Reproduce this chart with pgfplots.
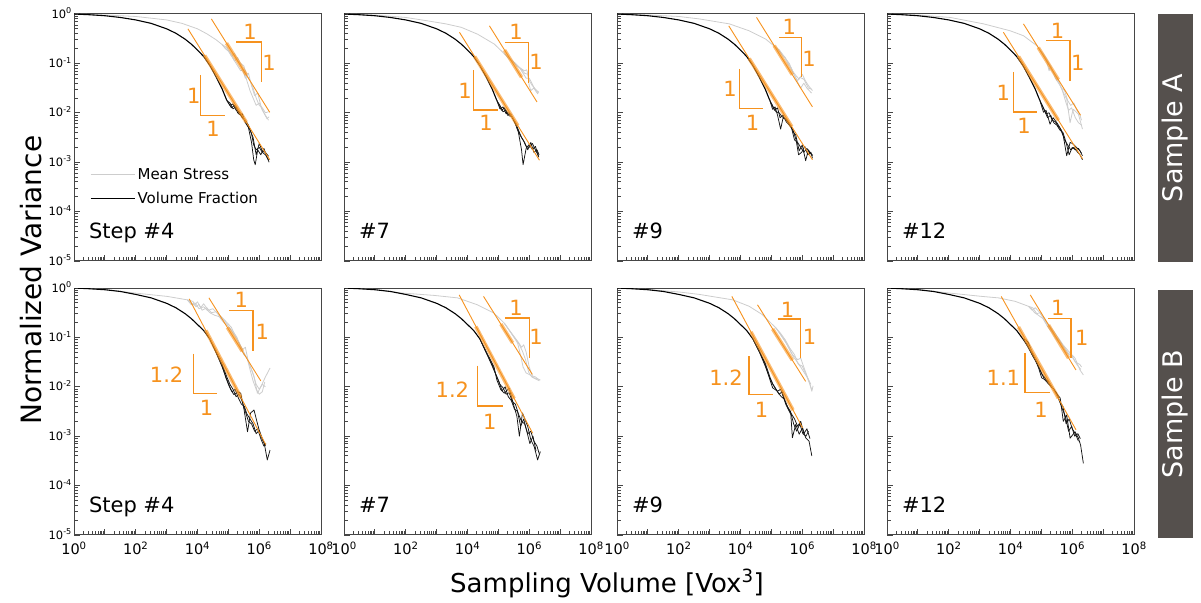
\documentclass[border=0pt]{standalone}
\usepackage{fontspec}
\setmainfont{DejaVu Sans}
\usepackage{pgfplots}
\pgfplotsset{compat=1.18}
\definecolor{og}{RGB}{246,146,30}
\definecolor{lg}{RGB}{205,205,205}
\definecolor{frm}{RGB}{70,70,70}
\definecolor{boxc}{RGB}{85,80,77}
\pgfplotsset{
 panel/.style={scale only axis, width=247pt, height=247pt,
  xmin=0, xmax=8, ymin=-5, ymax=0, no markers,
  axis line style={frm, line width=1pt},
  tick align=inside, xtick pos=left, ytick pos=left,
  xtick={0,1,...,8}, ytick={-5,-4,...,0},
  minor xtick={0.301,0.477,0.602,0.699,0.778,0.845,0.903,0.954,1.301,1.477,1.602,1.699,1.778,1.845,1.903,1.954,2.301,2.477,2.602,2.699,2.778,2.845,2.903,2.954,3.301,3.477,3.602,3.699,3.778,3.845,3.903,3.954,4.301,4.477,4.602,4.699,4.778,4.845,4.903,4.954,5.301,5.477,5.602,5.699,5.778,5.845,5.903,5.954,6.301,6.477,6.602,6.699,6.778,6.845,6.903,6.954,7.301,7.477,7.602,7.699,7.778,7.845,7.903,7.954},
  minor ytick={-4.699,-4.523,-4.398,-4.301,-4.222,-4.155,-4.097,-4.046,-3.699,-3.523,-3.398,-3.301,-3.222,-3.155,-3.097,-3.046,-2.699,-2.523,-2.398,-2.301,-2.222,-2.155,-2.097,-2.046,-1.699,-1.523,-1.398,-1.301,-1.222,-1.155,-1.097,-1.046,-0.699,-0.523,-0.398,-0.301,-0.222,-0.155,-0.097,-0.046},
  major tick length=6pt, minor tick length=3.5pt,
  every tick/.style={frm, line width=0.8pt},
  xticklabels={}, yticklabels={},
  yticklabel style={font=\fontsize{11.5}{11.5}\selectfont, inner xsep=2pt, inner ysep=0.3pt, yshift=1pt},
  xticklabel style={font=\fontsize{14.5}{14.5}\selectfont, inner xsep=0.3pt, inner ysep=0.5pt, yshift=-6pt},
  clip mode=individual},
 ylab/.style={yticklabels={10\textsuperscript{-5},10\textsuperscript{-4},10\textsuperscript{-3},10\textsuperscript{-2},10\textsuperscript{-1},10\textsuperscript{0}}},
 xlab/.style={xticklabels={10\textsuperscript{0},,10\textsuperscript{2},,10\textsuperscript{4},,10\textsuperscript{6},,10\textsuperscript{8}}},
 gr/.style={lg, line width=0.8pt, line join=round},
 bk/.style={black!92, line width=0.75pt, line join=round},
 bks/.style={black, line width=1.1pt, line join=round},
 thn/.style={og, line width=0.9pt},
 thk/.style={og, line width=3.6pt, opacity=0.6},
 brk/.style={og, line width=1.4pt},
}
\tikzset{lab/.style={text=og, font=\fontsize{21}{21}\selectfont, inner sep=0pt},
 steplab/.style={anchor=base west, font=\fontsize{21}{21}\selectfont, inner sep=0pt}}
\begin{document}
\begin{tikzpicture}
\path[use as bounding box] (0pt,0pt) rectangle (1201pt,602pt);
% ================= A #4
\begin{axis}[panel, ylab, at={(74pt,341pt)}, anchor=south west,
  legend style={at={(rel axis cs:0.065,0.385)}, anchor=north west, draw=none, fill=none, font=\fontsize{15}{15}\selectfont, row sep=7pt, inner sep=0pt},
  legend cell align=left,
  legend image code/.code={\draw[#1] (0pt,0pt) -- (39pt,0pt); \path (0pt,0pt) -- (44pt,0pt);}]
\addlegendimage{lg, line width=1.3pt}\addlegendentry{Mean Stress}
\addlegendimage{black, line width=1.3pt}\addlegendentry{Volume Fraction}
\addplot[gr] coordinates {(0,0) (1,-0.02) (2,-0.05) (3,-0.12) (3.5,-0.19) (4,-0.3) (4.3,-0.4) (4.6,-0.52) (4.8,-0.62)};
\addplot[gr] coordinates {(4.8,-0.62) (4.95,-0.68) (5.1,-0.85) (5.2,-0.8) (5.3,-0.95) (5.4,-1.0) (5.5,-1.05) (5.6,-1.25) (5.7,-1.35) (5.8,-1.5) (5.9,-1.7) (6.0,-1.85) (6.1,-1.9) (6.2,-2.0) (6.3,-1.98)};
\addplot[gr] coordinates {(4.8,-0.62) (4.95,-0.72) (5.05,-0.78) (5.2,-0.95) (5.3,-0.88) (5.45,-1.1) (5.55,-1.3) (5.65,-1.2) (5.75,-1.45) (5.85,-1.65) (5.95,-1.6) (6.05,-1.85) (6.15,-2.0) (6.25,-2.12) (6.32,-2.08)};
\addplot[gr] coordinates {(4.8,-0.62) (4.9,-0.7) (5.0,-0.75) (5.15,-0.9) (5.3,-1.05) (5.4,-1.15) (5.5,-1.12) (5.6,-1.35) (5.7,-1.55) (5.8,-1.7) (5.9,-1.85) (6.0,-1.8) (6.1,-1.95) (6.2,-2.05) (6.3,-2.15)};
\addplot[bks] coordinates {(0,0) (0.5,-0.015) (1,-0.035) (1.5,-0.07) (2,-0.12) (2.5,-0.19) (3,-0.3) (3.3,-0.39) (3.6,-0.51) (3.8,-0.61) (4,-0.73) (4.2,-0.86) (4.4,-1.04) (4.6,-1.27) (4.8,-1.52) (4.95,-1.75)};
\addplot[bk] coordinates {(4.95,-1.75) (5.05,-1.85) (5.15,-1.82) (5.25,-1.95) (5.35,-1.98) (5.45,-2.1) (5.55,-2.15) (5.65,-2.25) (5.75,-2.42) (5.82,-2.65) (5.9,-2.75) (6.0,-2.7) (6.1,-2.8) (6.2,-2.85) (6.3,-2.95)};
\addplot[bk] coordinates {(4.95,-1.75) (5.05,-1.8) (5.15,-1.92) (5.25,-1.88) (5.35,-2.03) (5.45,-2.02) (5.55,-2.2) (5.65,-2.3) (5.75,-2.6) (5.82,-2.95) (5.87,-3.05) (5.95,-2.75) (6.05,-2.85) (6.15,-2.72) (6.25,-2.9) (6.32,-3.0)};
\addplot[bk] coordinates {(4.95,-1.75) (5.1,-1.9) (5.2,-1.85) (5.3,-2.0) (5.4,-2.05) (5.5,-2.12) (5.6,-2.22) (5.7,-2.35) (5.8,-2.5) (5.9,-2.85) (6.0,-2.62) (6.1,-2.78) (6.2,-2.8) (6.3,-2.88)};
\addplot[thn] coordinates {(4.45,-0.10) (6.34,-1.99)};
\addplot[thn] coordinates {(3.69,-0.30) (6.34,-2.95)};
\addplot[thk] coordinates {(4.94,-0.59) (5.58,-1.23)};
\addplot[thk] coordinates {(4.23,-0.84) (5.58,-2.19)};
\addplot[brk] coordinates {(5.26,-0.57) (6.07,-0.57) (6.07,-1.38)};
\addplot[brk] coordinates {(4.10,-1.23) (4.10,-2.05) (4.88,-2.05)};
\node[lab] at (axis cs:5.70,-0.37) {1};
\node[lab] at (axis cs:6.32,-0.98) {1};
\node[lab] at (axis cs:3.88,-1.66) {1};
\node[lab] at (axis cs:4.50,-2.32) {1};
\node[steplab] at (rel axis cs:0.06,0.09) {Step \#4};
\end{axis}
% ================= A #7
\begin{axis}[panel, at={(344pt,341pt)}, anchor=south west]
\addplot[gr] coordinates {(0,0) (1,-0.02) (2,-0.07) (2.72,-0.14) (3.3,-0.2) (3.8,-0.27) (4.33,-0.41) (4.87,-0.61) (5.2,-0.81)};
\addplot[gr] coordinates {(5.2,-0.81) (5.35,-0.9) (5.52,-0.98) (5.68,-1.08) (5.84,-1.15) (5.92,-1.13) (6.0,-1.35) (6.1,-1.45) (6.2,-1.52) (6.3,-1.58)};
\addplot[gr] coordinates {(5.2,-0.81) (5.3,-0.88) (5.45,-0.95) (5.6,-1.05) (5.75,-1.12) (5.85,-1.2) (5.95,-1.22) (6.0,-1.45) (6.05,-1.55) (6.15,-1.5) (6.3,-1.6)};
\addplot[gr] coordinates {(5.2,-0.81) (5.4,-0.93) (5.55,-1.0) (5.7,-1.1) (5.8,-1.2) (5.9,-1.3) (6.0,-1.3) (6.1,-1.42) (6.2,-1.55) (6.28,-1.62)};
\addplot[bks] coordinates {(0,0) (0.5,-0.015) (1,-0.035) (1.5,-0.07) (2,-0.12) (2.5,-0.19) (3,-0.3) (3.3,-0.39) (3.6,-0.51) (3.8,-0.61) (4,-0.73) (4.2,-0.86) (4.4,-1.04) (4.6,-1.27) (4.8,-1.52) (4.95,-1.75)};
\addplot[bk] coordinates {(4.95,-1.75) (5.05,-1.92) (5.15,-1.88) (5.25,-2.02) (5.35,-2.0) (5.45,-2.1) (5.55,-2.22) (5.65,-2.4) (5.75,-2.75) (5.8,-3.05) (5.9,-2.72) (6.0,-2.64) (6.1,-2.74) (6.2,-2.68) (6.31,-2.9)};
\addplot[bk] coordinates {(4.95,-1.75) (5.05,-1.85) (5.15,-1.98) (5.25,-1.95) (5.35,-2.06) (5.45,-2.08) (5.55,-2.2) (5.65,-2.35) (5.75,-2.5) (5.85,-2.6) (5.95,-2.75) (6.05,-2.6) (6.15,-2.8) (6.25,-2.75) (6.32,-2.85)};
\addplot[bk] coordinates {(4.95,-1.75) (5.1,-1.95) (5.2,-1.9) (5.3,-2.05) (5.4,-2.02) (5.5,-2.15) (5.6,-2.3) (5.7,-2.45) (5.8,-2.55) (5.9,-2.68) (6.0,-2.7) (6.1,-2.62) (6.2,-2.75) (6.3,-2.88)};
\addplot[thn] coordinates {(4.71,-0.24) (6.25,-1.78)};
\addplot[thn] coordinates {(3.74,-0.37) (6.33,-2.96)};
\addplot[thk] coordinates {(5.2,-0.73) (5.75,-1.28)};
\addplot[thk] coordinates {(4.23,-0.86) (5.63,-2.26)};
\addplot[brk] coordinates {(5.2,-0.58) (5.98,-0.58) (5.98,-1.39)};
\addplot[brk] coordinates {(4.19,-1.14) (4.19,-1.94) (4.98,-1.94)};
\node[lab] at (axis cs:5.57,-0.37) {1};
\node[lab] at (axis cs:6.22,-0.97) {1};
\node[lab] at (axis cs:3.92,-1.56) {1};
\node[lab] at (axis cs:4.6,-2.2) {1};
\node[steplab] at (rel axis cs:0.06,0.09) {\#7};
\end{axis}
% ================= A #9
\begin{axis}[panel, at={(617pt,341pt)}, anchor=south west]
\addplot[gr] coordinates {(0,0) (1,-0.02) (2,-0.05) (2.67,-0.1) (3.64,-0.2) (4.28,-0.34) (4.82,-0.51) (5.15,-0.68)};
\addplot[gr] coordinates {(5.15,-0.68) (5.3,-0.78) (5.47,-0.91) (5.58,-1.0) (5.68,-1.15) (5.8,-1.25) (5.9,-1.32) (6.0,-1.22) (6.1,-1.35) (6.2,-1.45) (6.33,-1.55)};
\addplot[gr] coordinates {(5.15,-0.68) (5.25,-0.72) (5.4,-0.85) (5.5,-0.95) (5.6,-1.05) (5.72,-1.2) (5.85,-1.38) (5.95,-1.5) (6.05,-1.4) (6.15,-1.5) (6.3,-1.6)};
\addplot[gr] coordinates {(5.15,-0.68) (5.35,-0.82) (5.45,-0.88) (5.55,-1.02) (5.65,-1.1) (5.75,-1.25) (5.85,-1.35) (5.92,-1.28) (6.05,-1.32) (6.2,-1.5) (6.3,-1.52)};
\addplot[bks] coordinates {(0,0) (0.5,-0.015) (1,-0.035) (1.5,-0.07) (2,-0.12) (2.5,-0.19) (3,-0.3) (3.3,-0.39) (3.6,-0.51) (3.8,-0.61) (4,-0.73) (4.2,-0.86) (4.4,-1.04) (4.6,-1.27) (4.8,-1.52) (4.95,-1.75)};
\addplot[bk] coordinates {(4.95,-1.75) (5.04,-1.93) (5.12,-1.88) (5.2,-2.05) (5.3,-2.33) (5.38,-2.1) (5.5,-2.15) (5.63,-2.26) (5.72,-2.4) (5.79,-2.45) (5.9,-2.77) (6.0,-2.65) (6.11,-2.97) (6.2,-2.75) (6.33,-2.87)};
\addplot[bk] coordinates {(4.95,-1.75) (5.06,-1.88) (5.15,-1.98) (5.25,-2.0) (5.35,-2.08) (5.45,-2.12) (5.55,-2.2) (5.65,-2.3) (5.75,-2.55) (5.85,-2.6) (5.95,-2.7) (6.05,-2.8) (6.15,-2.72) (6.25,-2.82) (6.33,-2.85)};
\addplot[bk] coordinates {(4.95,-1.75) (5.1,-1.95) (5.2,-1.9) (5.28,-2.1) (5.38,-2.05) (5.48,-2.18) (5.58,-2.25) (5.7,-2.35) (5.8,-2.55) (5.88,-2.85) (5.98,-2.8) (6.08,-2.68) (6.18,-2.85) (6.28,-2.8) (6.33,-2.92)};
\addplot[thn] coordinates {(4.52,-0.07) (6.33,-1.88)};
\addplot[thn] coordinates {(3.62,-0.24) (6.33,-2.95)};
\addplot[thk] coordinates {(5.09,-0.64) (5.68,-1.23)};
\addplot[thk] coordinates {(4.28,-0.9) (5.66,-2.28)};
\addplot[brk] coordinates {(5.25,-0.47) (5.97,-0.47) (5.97,-1.28)};
\addplot[brk] coordinates {(3.96,-1.11) (3.96,-1.91) (4.74,-1.91)};
\node[lab] at (axis cs:5.58,-0.27) {1};
\node[lab] at (axis cs:6.22,-0.9) {1};
\node[lab] at (axis cs:3.66,-1.52) {1};
\node[lab] at (axis cs:4.39,-2.2) {1};
\node[steplab] at (rel axis cs:0.06,0.09) {\#9};
\end{axis}
% ================= A #12
\begin{axis}[panel, at={(887pt,341pt)}, anchor=south west]
\addplot[gr] coordinates {(0,0) (1,-0.02) (2.05,-0.07) (3.13,-0.2) (3.99,-0.34) (4.42,-0.44) (4.85,-0.64) (5.05,-0.8)};
\addplot[gr] coordinates {(5.05,-0.8) (5.18,-0.98) (5.25,-1.15) (5.3,-1.05) (5.45,-1.3) (5.61,-1.45) (5.72,-1.6) (5.82,-1.72) (5.93,-2.2) (6.0,-2.0) (6.04,-1.93) (6.2,-2.03) (6.33,-2.33)};
\addplot[gr] coordinates {(5.05,-0.8) (5.15,-0.9) (5.25,-1.0) (5.35,-1.15) (5.5,-1.3) (5.65,-1.5) (5.75,-1.55) (5.85,-1.75) (5.95,-1.85) (6.05,-1.8) (6.15,-1.95) (6.25,-2.05) (6.3,-2.15)};
\addplot[gr] coordinates {(5.05,-0.8) (5.2,-0.95) (5.3,-1.1) (5.4,-1.2) (5.55,-1.35) (5.68,-1.55) (5.8,-1.8) (5.88,-1.95) (5.98,-1.9) (6.1,-2.1) (6.2,-2.2) (6.3,-2.25)};
\addplot[bks] coordinates {(0,0) (0.5,-0.015) (1,-0.035) (1.5,-0.07) (2,-0.12) (2.5,-0.19) (3,-0.3) (3.3,-0.39) (3.6,-0.51) (3.8,-0.61) (4,-0.73) (4.2,-0.86) (4.4,-1.04) (4.6,-1.27) (4.8,-1.52) (4.95,-1.75)};
\addplot[bk] coordinates {(4.95,-1.75) (5.07,-1.99) (5.15,-1.95) (5.28,-2.23) (5.38,-2.1) (5.5,-2.2) (5.6,-2.3) (5.71,-2.47) (5.82,-2.87) (5.93,-2.6) (6.0,-2.62) (6.09,-2.67) (6.25,-2.77) (6.33,-2.87)};
\addplot[bk] coordinates {(4.95,-1.75) (5.05,-1.88) (5.15,-2.02) (5.25,-2.0) (5.35,-2.15) (5.45,-2.18) (5.55,-2.28) (5.65,-2.35) (5.75,-2.55) (5.85,-2.65) (5.95,-2.75) (6.05,-2.7) (6.15,-2.78) (6.25,-2.85) (6.33,-2.95)};
\addplot[bk] coordinates {(4.95,-1.75) (5.1,-1.95) (5.2,-2.1) (5.3,-2.05) (5.4,-2.2) (5.5,-2.25) (5.6,-2.35) (5.7,-2.4) (5.8,-2.6) (5.9,-2.85) (6.0,-2.7) (6.1,-2.75) (6.2,-2.72) (6.3,-2.82)};
\addplot[thn] coordinates {(4.42,-0.2) (6.27,-2.05)};
\addplot[thn] coordinates {(3.77,-0.37) (6.33,-2.93)};
\addplot[thk] coordinates {(4.9,-0.68) (5.55,-1.33)};
\addplot[thk] coordinates {(4.26,-0.86) (5.55,-2.15)};
\addplot[brk] coordinates {(5.15,-0.54) (5.93,-0.54) (5.93,-1.35)};
\addplot[brk] coordinates {(4.1,-1.17) (4.1,-1.98) (4.87,-1.98)};
\node[lab] at (axis cs:5.52,-0.34) {1};
\node[lab] at (axis cs:6.18,-0.98) {1};
\node[lab] at (axis cs:3.77,-1.59) {1};
\node[lab] at (axis cs:4.44,-2.26) {1};
\node[steplab] at (rel axis cs:0.06,0.09) {\#12};
\end{axis}
% ================= B #4
\begin{axis}[panel, ylab, xlab, at={(74pt,67pt)}, anchor=south west]
\addplot[gr] coordinates {(0,0) (1,-0.03) (1.94,-0.1) (3.02,-0.17) (3.67,-0.24)};
\addplot[gr] coordinates {(3.67,-0.24) (3.8,-0.3) (3.9,-0.35) (4.0,-0.28) (4.1,-0.4) (4.2,-0.32) (4.35,-0.45) (4.5,-0.42) (4.64,-0.51) (4.8,-0.6) (4.97,-0.71) (5.1,-0.8) (5.18,-0.91) (5.3,-1.05) (5.4,-1.18) (5.5,-1.3) (5.62,-1.45) (5.72,-1.6) (5.83,-1.79) (5.94,-2.13) (6.05,-2.0) (6.2,-1.8) (6.35,-1.62)};
\addplot[gr] coordinates {(3.67,-0.24) (3.85,-0.27) (3.95,-0.38) (4.05,-0.33) (4.15,-0.45) (4.3,-0.4) (4.45,-0.5) (4.6,-0.48) (4.75,-0.6) (4.9,-0.68) (5.05,-0.82) (5.2,-0.95) (5.35,-1.1) (5.45,-1.25) (5.55,-1.2) (5.65,-1.5) (5.78,-1.7) (5.9,-1.95) (6.0,-2.05) (6.1,-1.95) (6.2,-2.0)};
\addplot[gr] coordinates {(3.67,-0.24) (3.8,-0.34) (3.92,-0.3) (4.05,-0.42) (4.2,-0.38) (4.4,-0.5) (4.55,-0.55) (4.7,-0.58) (4.85,-0.7) (5.0,-0.78) (5.15,-0.88) (5.28,-1.0) (5.4,-1.22) (5.5,-1.35) (5.6,-1.4) (5.7,-1.65) (5.8,-1.88) (5.9,-2.05) (6.0,-2.15) (6.1,-2.1) (6.18,-1.9)};
\addplot[bks] coordinates {(0,0) (0.5,-0.015) (1,-0.035) (1.5,-0.07) (2,-0.13) (2.5,-0.2) (3,-0.31) (3.3,-0.4) (3.6,-0.52) (3.8,-0.62) (4,-0.74) (4.2,-0.86) (4.4,-1.03)};
\addplot[bk] coordinates {(4.4,-1.03) (4.6,-1.3) (4.8,-1.6) (4.95,-1.85) (5.08,-2.06) (5.18,-2.16) (5.3,-2.1) (5.4,-2.13) (5.51,-2.47) (5.62,-2.91) (5.72,-2.53) (5.83,-2.47) (5.94,-2.74) (6.05,-3.0) (6.16,-3.14) (6.26,-3.48) (6.35,-3.28)};
\addplot[bk] coordinates {(4.4,-1.03) (4.6,-1.3) (4.8,-1.55) (4.95,-1.8) (5.05,-1.95) (5.15,-2.05) (5.25,-2.2) (5.35,-2.15) (5.45,-2.3) (5.55,-2.5) (5.65,-2.7) (5.75,-2.75) (5.85,-2.9) (5.95,-2.85) (6.05,-3.05) (6.15,-3.2) (6.22,-3.15)};
\addplot[bk] coordinates {(4.4,-1.03) (4.6,-1.3) (4.8,-1.58) (4.92,-1.82) (5.02,-1.98) (5.12,-2.1) (5.22,-2.05) (5.32,-2.22) (5.42,-2.35) (5.52,-2.4) (5.6,-2.55) (5.7,-2.65) (5.8,-2.75) (5.9,-2.95) (6.0,-2.88) (6.1,-3.05) (6.2,-3.2)};
\addplot[thn] coordinates {(4.37,-0.2) (6.05,-1.88)};
\addplot[thn] coordinates {(3.73,-0.22) (6.21,-3.17)};
\addplot[thk] coordinates {(4.97,-0.8) (5.45,-1.28)};
\addplot[thk] coordinates {(4.27,-0.86) (5.4,-2.21)};
\addplot[brk] coordinates {(5.02,-0.46) (5.8,-0.46) (5.8,-1.28)};
\addplot[brk] coordinates {(3.87,-1.33) (3.87,-2.13) (4.64,-2.13)};
\node[lab] at (axis cs:5.42,-0.24) {1};
\node[lab] at (axis cs:6.1,-0.88) {1};
\node[lab] at (axis cs:3.0,-1.76) {1.2};
\node[lab] at (axis cs:4.29,-2.43) {1};
\node[steplab] at (rel axis cs:0.06,0.09) {Step \#4};
\end{axis}
% ================= B #7
\begin{axis}[panel, xlab, at={(344pt,67pt)}, anchor=south west]
\addplot[gr] coordinates {(0,0) (1,-0.03) (1.84,-0.1) (2.92,-0.15) (3.68,-0.2) (4.32,-0.34) (4.86,-0.51) (5.19,-0.71)};
\addplot[gr] coordinates {(5.19,-0.71) (5.41,-0.91) (5.62,-1.11) (5.73,-1.39) (5.8,-1.6) (5.9,-1.72) (6.0,-1.75) (6.16,-1.82) (6.36,-1.86)};
\addplot[gr] coordinates {(5.19,-0.71) (5.35,-0.85) (5.5,-0.98) (5.65,-1.1) (5.75,-1.2) (5.82,-1.15) (5.9,-1.3) (6.0,-1.6) (6.1,-1.78) (6.2,-1.8) (6.3,-1.85)};
\addplot[gr] coordinates {(5.19,-0.71) (5.38,-0.88) (5.55,-1.02) (5.68,-1.15) (5.78,-1.28) (5.88,-1.45) (5.98,-1.7) (6.08,-1.8) (6.2,-1.84) (6.33,-1.88)};
\addplot[bks] coordinates {(0,0) (0.5,-0.015) (1,-0.035) (1.5,-0.07) (2,-0.13) (2.5,-0.2) (3,-0.31) (3.3,-0.4) (3.6,-0.52) (3.8,-0.62) (4,-0.74) (4.2,-0.86) (4.4,-1.03)};
\addplot[bk] coordinates {(4.4,-1.03) (4.6,-1.28) (4.86,-1.6) (4.95,-1.86) (5.08,-2.06) (5.19,-2.13) (5.35,-2.03) (5.51,-2.4) (5.6,-2.6) (5.68,-3.0) (5.78,-2.53) (5.95,-2.8) (6.05,-3.07) (6.16,-3.21) (6.27,-3.48) (6.36,-3.31)};
\addplot[bk] coordinates {(4.4,-1.03) (4.6,-1.3) (4.8,-1.58) (4.95,-1.8) (5.05,-1.95) (5.15,-2.02) (5.25,-2.15) (5.35,-2.12) (5.45,-2.3) (5.55,-2.35) (5.65,-2.55) (5.75,-2.7) (5.85,-2.75) (5.95,-2.95) (6.05,-2.9) (6.15,-3.1) (6.25,-3.2) (6.32,-3.35)};
\addplot[bk] coordinates {(4.4,-1.03) (4.6,-1.3) (4.8,-1.55) (4.92,-1.75) (5.02,-1.9) (5.12,-2.08) (5.22,-2.0) (5.32,-2.2) (5.42,-2.28) (5.52,-2.45) (5.62,-2.5) (5.72,-2.8) (5.82,-2.65) (5.92,-2.9) (6.02,-3.15) (6.12,-3.0) (6.22,-3.3)};
\addplot[thn] coordinates {(4.52,-0.17) (6.1,-1.75)};
\addplot[thn] coordinates {(3.73,-0.14) (6.11,-2.94)};
\addplot[thk] coordinates {(5.08,-0.73) (5.46,-1.11)};
\addplot[thk] coordinates {(4.27,-0.78) (5.51,-2.24)};
\addplot[brk] coordinates {(5.21,-0.61) (6.0,-0.61) (6.0,-1.42)};
\addplot[brk] coordinates {(4.32,-1.57) (4.32,-2.39) (5.14,-2.39)};
\node[lab] at (axis cs:5.57,-0.41) {1};
\node[lab] at (axis cs:6.22,-0.98) {1};
\node[lab] at (axis cs:3.51,-2.06) {1.2};
\node[lab] at (axis cs:4.72,-2.7) {1};
\node[steplab] at (rel axis cs:0.06,0.09) {\#7};
\end{axis}
% ================= B #9
\begin{axis}[panel, xlab, at={(617pt,67pt)}, anchor=south west]
\addplot[gr] coordinates {(0,0) (1,-0.03) (2,-0.08) (2.67,-0.13) (3.75,-0.24) (4.28,-0.37) (4.71,-0.54) (5.15,-0.81)};
\addplot[gr] coordinates {(5.15,-0.81) (5.3,-0.95) (5.47,-1.11) (5.68,-1.35) (5.85,-1.45) (5.95,-1.42) (6.06,-1.62) (6.22,-1.89) (6.31,-2.09) (6.35,-1.98)};
\addplot[gr] coordinates {(5.15,-0.81) (5.3,-0.92) (5.45,-1.05) (5.6,-1.22) (5.75,-1.35) (5.85,-1.52) (5.95,-1.6) (6.05,-1.7) (6.15,-1.8) (6.25,-1.95) (6.3,-2.05)};
\addplot[gr] coordinates {(5.15,-0.81) (5.35,-0.98) (5.5,-1.12) (5.62,-1.28) (5.72,-1.4) (5.82,-1.48) (5.9,-1.55) (6.0,-1.58) (6.1,-1.72) (6.2,-1.85) (6.28,-1.95)};
\addplot[bks] coordinates {(0,0) (0.5,-0.015) (1,-0.035) (1.5,-0.07) (2,-0.13) (2.5,-0.2) (3,-0.31) (3.3,-0.4) (3.6,-0.52) (3.8,-0.62) (4,-0.74) (4.2,-0.86) (4.4,-1.03)};
\addplot[bk] coordinates {(4.4,-1.03) (4.6,-1.25) (4.8,-1.55) (4.95,-1.85) (5.04,-2.02) (5.2,-2.09) (5.3,-2.05) (5.47,-2.36) (5.63,-2.56) (5.68,-3.03) (5.79,-2.76) (5.9,-2.96) (6.01,-2.83) (6.11,-3.03) (6.22,-3.1) (6.31,-3.4)};
\addplot[bk] coordinates {(4.4,-1.03) (4.6,-1.28) (4.8,-1.52) (4.95,-1.8) (5.05,-1.95) (5.15,-2.05) (5.25,-2.15) (5.35,-2.1) (5.45,-2.3) (5.55,-2.45) (5.65,-2.55) (5.75,-2.65) (5.85,-2.8) (5.95,-2.7) (6.05,-2.95) (6.15,-2.85) (6.25,-3.05)};
\addplot[bk] coordinates {(4.4,-1.03) (4.6,-1.28) (4.8,-1.58) (4.92,-1.78) (5.02,-1.92) (5.12,-2.02) (5.22,-2.12) (5.32,-2.2) (5.42,-2.25) (5.52,-2.4) (5.62,-2.5) (5.72,-2.75) (5.82,-2.9) (5.92,-2.75) (6.02,-2.95) (6.12,-3.0) (6.2,-2.9)};
\addplot[thn] coordinates {(4.55,-0.34) (6.11,-1.89)};
\addplot[thn] coordinates {(3.72,-0.17) (6.01,-2.83)};
\addplot[thk] coordinates {(5.04,-0.83) (5.68,-1.46)};
\addplot[thk] coordinates {(4.34,-0.89) (5.7,-2.47)};
\addplot[brk] coordinates {(5.2,-0.63) (5.95,-0.63) (5.95,-1.42)};
\addplot[brk] coordinates {(4.28,-1.38) (4.28,-2.16) (5.06,-2.16)};
\node[lab] at (axis cs:5.52,-0.44) {1};
\node[lab] at (axis cs:6.24,-0.98) {1};
\node[lab] at (axis cs:3.53,-1.82) {1.2};
\node[lab] at (axis cs:4.68,-2.46) {1};
\node[steplab] at (rel axis cs:0.06,0.09) {\#9};
\end{axis}
% ================= B #12
\begin{axis}[panel, xlab, at={(887pt,67pt)}, anchor=south west]
\addplot[gr] coordinates {(0,0) (1,-0.03) (1.99,-0.1) (3.07,-0.17) (3.61,-0.2) (4.15,-0.27) (4.58,-0.37)};
\addplot[gr] coordinates {(4.58,-0.37) (4.7,-0.45) (4.8,-0.4) (4.91,-0.47) (5.05,-0.58) (5.23,-0.74) (5.4,-0.88) (5.55,-1.01) (5.7,-1.15) (5.88,-1.28) (6.09,-1.42) (6.25,-1.66) (6.36,-1.76)};
\addplot[gr] coordinates {(4.58,-0.37) (4.68,-0.42) (4.78,-0.5) (4.9,-0.55) (5.05,-0.62) (5.2,-0.78) (5.35,-0.9) (5.5,-1.05) (5.65,-1.15) (5.8,-1.3) (5.95,-1.35) (6.1,-1.5) (6.25,-1.55) (6.3,-1.6)};
\addplot[gr] coordinates {(4.58,-0.37) (4.72,-0.4) (4.85,-0.52) (4.95,-0.5) (5.1,-0.65) (5.25,-0.8) (5.42,-0.95) (5.6,-1.08) (5.75,-1.2) (5.9,-1.35) (6.0,-1.38) (6.15,-1.55) (6.28,-1.65)};
\addplot[bks] coordinates {(0,0) (0.5,-0.015) (1,-0.035) (1.5,-0.07) (2,-0.13) (2.5,-0.2) (3,-0.31) (3.3,-0.4) (3.6,-0.52) (3.8,-0.62) (4,-0.74) (4.2,-0.86) (4.4,-1.03)};
\addplot[bk] coordinates {(4.4,-1.03) (4.5,-1.05) (4.58,-1.11) (4.7,-1.3) (4.91,-1.62) (5.01,-1.82) (5.23,-1.89) (5.44,-2.09) (5.61,-2.23) (5.71,-2.7) (5.82,-2.57) (5.93,-3.04) (6.09,-2.91) (6.2,-3.04) (6.27,-3.18) (6.36,-3.55)};
\addplot[bk] coordinates {(4.4,-1.03) (4.55,-1.18) (4.7,-1.35) (4.85,-1.5) (5.0,-1.72) (5.1,-1.85) (5.2,-1.92) (5.3,-1.98) (5.4,-2.05) (5.5,-2.15) (5.6,-2.3) (5.7,-2.4) (5.8,-2.75) (5.9,-2.65) (6.0,-2.85) (6.1,-2.95) (6.2,-3.1)};
\addplot[bk] coordinates {(4.4,-1.03) (4.55,-1.15) (4.72,-1.38) (4.88,-1.55) (5.02,-1.75) (5.12,-1.82) (5.25,-1.95) (5.35,-2.02) (5.48,-2.12) (5.58,-2.28) (5.68,-2.45) (5.78,-2.6) (5.88,-2.9) (5.98,-2.8) (6.08,-3.0) (6.18,-2.95) (6.26,-3.05)};
\addplot[thn] coordinates {(4.64,-0.14) (6.12,-1.66)};
\addplot[thn] coordinates {(3.7,-0.17) (6.12,-2.87)};
\addplot[thk] coordinates {(5.23,-0.75) (5.88,-1.42)};
\addplot[thk] coordinates {(4.26,-0.79) (5.55,-2.23)};
\addplot[brk] coordinates {(5.21,-0.62) (5.96,-0.62) (5.96,-1.41)};
\addplot[brk] coordinates {(4.47,-1.32) (4.47,-2.11) (5.28,-2.11)};
\node[lab] at (axis cs:5.53,-0.41) {1};
\node[lab] at (axis cs:6.31,-1.01) {1};
\node[lab] at (axis cs:3.77,-1.82) {1.1};
\node[lab] at (axis cs:4.99,-2.47) {1};
\node[steplab] at (rel axis cs:0.06,0.09) {\#12};
\end{axis}
% side boxes and common labels
\fill[boxc] (1158pt,340pt) rectangle (1193pt,588pt);
\node[rotate=90, text=white, font=\fontsize{27}{27}\selectfont] at (1175.5pt,464pt) {Sample A};
\fill[boxc] (1158pt,64pt) rectangle (1193pt,312pt);
\node[rotate=90, text=white, font=\fontsize{27}{27}\selectfont] at (1175.5pt,188pt) {Sample B};
\node[rotate=90, font=\fontsize{28}{28}\selectfont] at (31pt,322pt) {Normalized Variance};
\node[anchor=base, font=\fontsize{26}{26}\selectfont] at (607pt,10pt) {Sampling Volume [Vox\textsuperscript{3}]};
\end{tikzpicture}
\end{document}
